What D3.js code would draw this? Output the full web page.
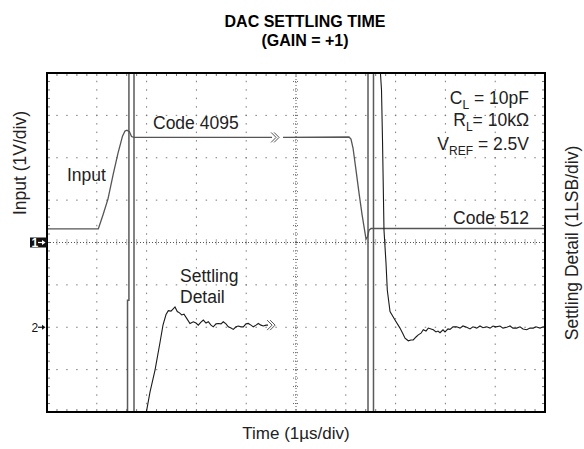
<!DOCTYPE html>
<html><head><meta charset="utf-8">
<script src="https://cdn.jsdelivr.net/npm/d3@7"></script>
<style>
body{margin:0;background:#fff}
svg{display:block}
text{font-family:"Liberation Sans",Arial,Helvetica,sans-serif}
</style>
</head><body>
<svg id="c" width="584" height="449"></svg>
<script>
// ---- data (time in µs = divisions, amplitude in divisions) ----
const titleLines = ["DAC SETTLING TIME", "(GAIN = +1)"];
const xLabel = "Time (1µs/div)";
const yLabelLeft = "Input (1V/div)";
const yLabelRight = "Settling Detail (1LSB/div)";
const xDomain = [0, 10];
const yDomain = [-4, 4];
const xGrid = [1, 2, 3, 4, 6, 7, 8, 9];
const yGrid = [-3, -2, -1, 1, 2, 3];

// input trace: rising edge to code 4095
const inputRise = [[0,0.32],[1.03,0.32],[1.124,0.65],[1.225,1.03],[1.331,1.62],[1.426,2.11],[1.516,2.51],[1.566,2.63],[1.606,2.65],[1.657,2.61],[1.697,2.50],[1.747,2.48],[4.518,2.48]];
// input trace: code 4095 then falling edge to code 512
const inputFall = [[4.739,2.48],[6.064,2.49],[6.104,2.44],[6.145,2.23],[6.205,1.71],[6.265,1.17],[6.325,0.67],[6.406,0.08],[6.436,0.13],[6.466,0.29],[6.506,0.33],[10,0.33]];
// settling detail after rising edge
const settleRise = [[1.98,-4.1],[2.068,-3.53],[2.169,-3.01],[2.269,-2.36],[2.329,-1.95],[2.390,-1.70],[2.436,-1.61],[2.490,-1.62],[2.530,-1.57],[2.570,-1.52],[2.616,-1.63],[2.661,-1.66],[2.705,-1.71],[2.751,-1.69],[2.805,-1.79],[2.871,-1.91],[2.938,-1.87],[2.992,-1.90],[3.038,-1.95],[3.092,-1.88],[3.139,-1.83],[3.193,-1.90],[3.239,-1.87],[3.293,-1.95],[3.339,-1.99],[3.394,-1.92],[3.440,-1.91],[3.494,-1.92],[3.540,-1.87],[3.594,-1.92],[3.641,-1.99],[3.695,-2.02],[3.741,-2.05],[3.795,-1.99],[3.841,-1.97],[3.896,-1.99],[3.942,-1.99],[3.996,-1.92],[4.042,-1.91],[4.096,-1.95],[4.143,-1.99],[4.197,-1.95],[4.243,-1.91],[4.297,-1.95],[4.343,-1.97],[4.398,-1.95],[4.438,-1.95]];
// settling detail after falling edge
const settleFall = [[6.69,4.1],[6.717,3.60],[6.737,2.42],[6.767,0.29],[6.807,-0.48],[6.833,-1.12],[6.888,-1.63],[6.988,-1.83],[7.088,-2.02],[7.149,-2.16],[7.189,-2.26],[7.255,-2.32],[7.309,-2.30],[7.355,-2.30],[7.410,-2.23],[7.456,-2.18],[7.510,-2.14],[7.556,-2.06],[7.610,-2.09],[7.657,-2.02],[7.711,-2.04],[7.757,-2.06],[7.811,-2.11],[7.851,-2.09],[7.892,-2.13],[7.952,-2.06],[7.992,-2.11],[8.052,-2.04],[8.092,-2.05],[8.153,-1.99],[8.227,-1.99],[8.293,-2.02],[8.353,-1.97],[8.428,-2.00],[8.494,-2.04],[8.554,-1.99],[8.629,-2.02],[8.695,-1.97],[8.755,-2.01],[8.829,-1.99],[8.896,-2.02],[8.956,-1.97],[9.016,-1.99],[9.096,-1.97],[9.157,-2.02],[9.231,-2.00],[9.297,-1.97],[9.357,-2.02],[9.432,-2.02],[9.498,-1.99],[9.558,-2.04],[9.632,-2.06],[9.699,-2.02],[9.765,-2.02],[9.819,-1.99],[9.900,-2.02],[9.966,-1.99],[10,-2.00]];
// off-screen glitch lines (vertical)
const glitchLines = [
  [[1.645,4.1],[1.645,-1.36],[1.617,-1.36],[1.617,-4.1]],
  [[1.747,4.1],[1.747,-4.1]],
  [[6.446,4.1],[6.446,-4.1]],
  [[6.556,4.1],[6.556,-4.1]]
];
// break symbols
const breaks = [[4.60,2.48],[4.52,-1.95]];
// channel markers
const markers = [{label:"1", v:0, filled:true},{label:"2", v:-2, filled:false}];

// ---- drawing ----
const svg = d3.select("#c");
const x = d3.scaleLinear().domain(xDomain).range([47,545]);
const y = d3.scaleLinear().domain(yDomain).range([412,73]);

svg.append("defs").append("clipPath").attr("id","clip")
  .append("rect").attr("x",x(0)).attr("y",y(4)).attr("width",x(10)-x(0)).attr("height",y(-4)-y(4));

const minorX = d3.range(0, 50.5, 1).map(i=>i*0.2);
const minorY = d3.range(-20, 20.5, 1).map(i=>i*0.2);

const g = svg.append("g");
// regular dotted grid
xGrid.forEach(xv=>{
  g.selectAll(null).data(minorY.slice(1,-1)).join("rect")
    .attr("x",x(xv)-0.5).attr("y",d=>y(d)-0.75).attr("width",1).attr("height",1.5).attr("fill","#7a7a7a");
});
yGrid.forEach(yv=>{
  g.selectAll(null).data(minorX.slice(1,-1)).join("rect")
    .attr("x",d=>x(d)-0.75).attr("y",y(yv)-0.5).attr("width",1.5).attr("height",1).attr("fill","#7a7a7a");
});
// centre axes
g.append("line").attr("x1",x(5)).attr("x2",x(5)).attr("y1",y(4)).attr("y2",y(-4))
  .attr("stroke","#555").attr("stroke-width",1).attr("stroke-dasharray","1,2");
g.append("line").attr("x1",x(0)).attr("x2",x(10)).attr("y1",y(0)).attr("y2",y(0))
  .attr("stroke","#555").attr("stroke-width",1).attr("stroke-dasharray","1,2");
g.selectAll(null).data(minorY).join("line")
  .attr("x1",x(5)-3).attr("x2",x(5)+3).attr("y1",d=>y(d)).attr("y2",d=>y(d))
  .attr("stroke","#666").attr("stroke-width",1).attr("stroke-dasharray","1,1");
g.selectAll(null).data(minorX).join("line")
  .attr("y1",y(0)-3).attr("y2",y(0)+3).attr("x1",d=>x(d)).attr("x2",d=>x(d))
  .attr("stroke","#666").attr("stroke-width",1).attr("stroke-dasharray","1,1");
// border ticks
g.selectAll(null).data(minorX).join("line")
  .attr("x1",d=>x(d)).attr("x2",d=>x(d)).attr("y1",y(4)).attr("y2",y(4)+3).attr("stroke","#777");
g.selectAll(null).data(minorX).join("line")
  .attr("x1",d=>x(d)).attr("x2",d=>x(d)).attr("y1",y(-4)).attr("y2",y(-4)-3).attr("stroke","#777");
g.selectAll(null).data(minorY).join("line")
  .attr("y1",d=>y(d)).attr("y2",d=>y(d)).attr("x1",x(0)).attr("x2",x(0)+3).attr("stroke","#777");
g.selectAll(null).data(minorY).join("line")
  .attr("y1",d=>y(d)).attr("y2",d=>y(d)).attr("x1",x(10)).attr("x2",x(10)-3).attr("stroke","#777");

// traces
const line = d3.line().x(d=>x(d[0])).y(d=>y(d[1]));
const tr = svg.append("g").attr("clip-path","url(#clip)").attr("fill","none");
glitchLines.forEach(l=>tr.append("path").attr("d",line(l)).attr("stroke","#5a5a5a").attr("stroke-width",1.5));
tr.append("path").attr("d",line(inputRise)).attr("stroke","#555").attr("stroke-width",1.3);
tr.append("path").attr("d",line(inputFall)).attr("stroke","#555").attr("stroke-width",1.3);
tr.append("path").attr("d",line(settleRise)).attr("stroke","#1a1a1a").attr("stroke-width",1.1);
tr.append("path").attr("d",line(settleFall)).attr("stroke","#1a1a1a").attr("stroke-width",1.1);
breaks.forEach(b=>{
  const cx=x(b[0]), cy=y(b[1]);
  tr.append("path").attr("d",`M${cx-5},${cy-5}L${cx},${cy}L${cx-5},${cy+5}M${cx-2},${cy-5}L${cx+3},${cy}L${cx-2},${cy+5}`)
    .attr("stroke","#555").attr("stroke-width",1);
});

// border
svg.append("rect").attr("x",x(0)).attr("y",y(4)).attr("width",x(10)-x(0)).attr("height",y(-4)-y(4))
  .attr("fill","none").attr("stroke","#000").attr("stroke-width",2);

// channel markers
markers.forEach(m=>{
  const cy=y(m.v);
  if(m.filled){
    svg.append("rect").attr("x",30).attr("y",cy-5).attr("width",x(0)-30).attr("height",10).attr("fill","#111");
  }
  const col = m.filled? "#fff":"#111";
  svg.append("text").attr("x",31.5).attr("y",cy+4.5).attr("font-size",12).attr("font-weight",m.filled?"bold":"normal")
    .attr("fill",col).text(m.label);
  svg.append("line").attr("x1",38).attr("x2",44).attr("y1",cy).attr("y2",cy).attr("stroke",col).attr("stroke-width",1.2);
  svg.append("path").attr("d",`M${42},${cy-2.5}L${45.5},${cy}L${42},${cy+2.5}Z`).attr("fill",col);
});

// titles
svg.append("text").attr("x",305).attr("y",27).attr("text-anchor","middle").attr("font-size",16).attr("font-weight","bold").text(titleLines[0]);
svg.append("text").attr("x",305).attr("y",46).attr("text-anchor","middle").attr("font-size",16).attr("font-weight","bold").text(titleLines[1]);

// axis labels
svg.append("text").attr("x",x(5)).attr("y",439).attr("text-anchor","middle").attr("font-size",17).attr("fill","#222").text(xLabel);
svg.append("text").attr("transform","translate(26,163) rotate(-90)").attr("text-anchor","middle").attr("font-size",17.5).attr("fill","#222").text(yLabelLeft);
svg.append("text").attr("transform","translate(578,243) rotate(-90)").attr("text-anchor","middle").attr("font-size",17.5).attr("fill","#222").text(yLabelRight);

// in-plot annotations
const ann = svg.append("g").attr("font-size",17.5).attr("fill","#222");
ann.append("text").attr("x",153).attr("y",128.5).text("Code 4095");
ann.append("text").attr("x",67).attr("y",181).text("Input");
ann.append("text").attr("x",180).attr("y",282).text("Settling");
ann.append("text").attr("x",180).attr("y",303).text("Detail");
ann.append("text").attr("x",529).attr("y",224).attr("text-anchor","end").text("Code 512");
function sub(yb, main, s, rest){
  const t = ann.append("text").attr("x",529).attr("y",yb).attr("text-anchor","end");
  t.append("tspan").text(main);
  t.append("tspan").attr("font-size",12).attr("dy",5).text(s);
  t.append("tspan").attr("dy",-5).text(rest);
}
sub(103.5,"C","L"," = 10pF");
sub(126,"R","L","= 10kΩ");
sub(150,"V","REF"," = 2.5V");
</script>
</body></html>
